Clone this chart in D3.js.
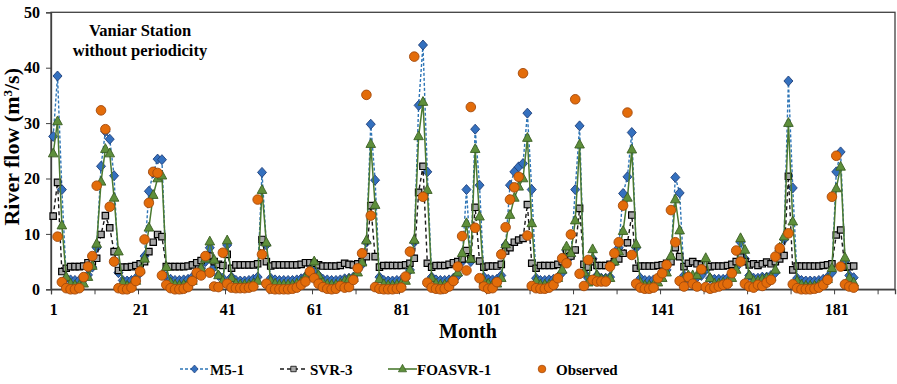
<!DOCTYPE html>
<html><head><meta charset="utf-8">
<script src="https://cdn.jsdelivr.net/npm/d3@7"></script>
<style>
html,body{margin:0;padding:0;background:#fff;}
svg{display:block;}
text{font-family:"Liberation Serif","DejaVu Serif",serif;font-weight:bold;fill:#000;}
</style></head><body>
<svg id="chart" width="897" height="384"></svg>
<script>
const months = d3.range(1, 186);
const m5 = [
27.6,38.5,18.0,2.0,1.7,1.6,1.6,1.8,2.6,4.0,
7.5,22.2,28.5,27.1,20.5,3.0,1.6,1.5,1.6,2.0,
3.0,6.0,17.7,21.0,23.5,23.4,2.2,1.8,1.6,1.6,
1.7,1.8,2.2,2.8,3.8,5.0,7.5,4.0,2.5,2.0,
8.0,2.2,1.6,1.5,1.5,1.6,1.8,2.2,21.1,8.0,
2.0,1.7,1.6,1.6,1.6,1.6,1.7,1.9,2.3,3.0,
3.6,2.5,1.8,1.7,1.6,1.6,1.7,1.9,2.0,2.2,
3.5,4.5,8.5,29.8,19.7,2.2,1.6,1.5,1.5,1.6,
1.7,2.0,3.5,8.5,33.2,44.1,21.2,2.2,1.7,1.6,
1.6,1.7,2.0,2.5,5.0,18.0,5.0,28.9,18.8,2.2,
1.8,1.7,1.8,2.5,8.0,18.8,21.2,22.1,22.7,31.8,
18.0,2.0,1.6,1.6,1.7,1.8,2.2,3.0,7.0,6.0,
18.0,29.5,3.0,2.0,5.5,2.5,2.0,2.0,2.2,5.0,
7.5,17.3,20.3,28.3,7.5,2.0,1.6,1.6,1.7,2.0,
2.8,3.5,5.5,20.2,17.4,2.5,2.0,2.0,2.2,2.5,
3.5,2.0,1.8,1.8,1.8,2.0,2.8,4.0,8.5,5.5,
2.5,2.0,2.0,2.2,2.2,2.5,3.0,7.0,9.0,37.6,
18.3,2.0,1.6,1.5,1.5,1.5,1.6,1.8,2.2,3.0,
21.2,24.8,5.0,2.5,2.1];
const svr = [
13.2,19.3,3.2,3.8,4.1,4.1,4.1,4.2,4.8,5.0,
5.6,9.9,13.3,11.1,6.8,3.4,4.0,4.0,4.1,4.3,
4.6,5.0,6.8,8.5,9.9,9.5,4.1,4.1,4.1,4.1,
4.1,4.2,4.4,4.8,5.2,5.6,6.0,5.0,4.5,4.3,
6.3,3.8,4.4,4.4,4.4,4.4,4.4,4.6,9.0,5.0,
4.2,4.4,4.4,4.4,4.4,4.4,4.4,4.5,4.8,4.8,
4.7,4.4,4.2,4.2,4.2,4.2,4.3,4.7,4.5,4.4,
4.6,5.0,5.9,15.1,5.9,4.0,4.3,4.3,4.3,4.3,
4.3,4.4,4.7,5.6,17.5,22.2,4.7,4.0,4.3,4.3,
4.3,4.5,4.8,5.0,5.5,7.0,5.5,14.8,5.1,4.0,
4.2,4.2,4.2,4.5,6.9,7.5,8.5,8.9,9.2,15.3,
4.7,3.8,4.3,4.3,4.3,4.3,4.5,5.0,7.0,6.0,
7.1,14.6,4.5,4.0,5.0,4.3,4.3,4.3,4.5,5.0,
5.5,6.5,8.4,13.4,3.8,4.2,4.2,4.2,4.2,4.3,
4.4,4.7,5.0,7.5,5.9,4.1,4.7,5.0,4.6,4.4,
4.6,4.1,4.2,4.2,4.2,4.3,4.5,5.0,5.8,5.0,
4.4,4.6,4.3,4.6,4.9,4.6,5.0,5.5,6.1,20.4,
3.5,4.2,4.2,4.2,4.2,4.2,4.2,4.3,4.4,4.6,
9.8,10.7,4.0,4.1,4.2];
const foa = [
24.5,30.3,11.5,2.2,1.0,0.7,0.7,1.0,2.2,4.2,
8.2,19.4,25.3,24.5,16.5,6.8,1.2,0.6,0.7,1.5,
3.5,5.5,11.1,17.0,20.0,20.5,4.0,1.2,0.8,0.7,
0.8,1.0,1.5,2.6,3.8,5.5,8.6,5.3,2.5,1.5,
8.8,2.0,1.0,0.8,0.8,0.8,1.0,1.5,17.9,8.4,
1.5,1.0,0.8,0.8,0.8,0.8,1.0,1.3,2.2,3.2,
5.0,2.5,1.2,0.9,0.8,0.8,1.0,1.5,1.8,2.0,
3.0,4.8,8.8,26.2,15.2,1.8,0.9,0.7,0.7,0.8,
1.0,1.5,3.5,8.9,27.6,33.8,17.9,2.0,1.0,0.8,
0.8,1.0,1.8,3.0,6.5,11.9,5.5,25.3,13.1,1.5,
1.0,0.8,1.0,2.0,8.1,13.4,16.5,18.5,20.0,27.3,
11.9,1.5,0.8,0.8,0.8,1.2,2.0,3.5,7.7,6.5,
12.4,26.1,3.0,1.2,7.2,2.5,1.8,1.8,2.0,5.0,
6.8,10.5,16.5,25.2,8.1,1.2,0.7,0.7,0.8,1.2,
2.0,3.0,6.0,16.2,10.6,2.0,2.5,2.5,2.5,3.5,
5.6,2.0,1.0,1.0,1.2,1.3,2.0,3.5,9.2,7.1,
2.5,1.5,1.5,1.8,2.0,2.2,3.5,7.5,9.5,30.0,
12.2,1.5,0.8,0.6,0.6,0.6,0.8,1.0,1.8,3.8,
18.2,22.1,5.7,2.0,1.2];
const observed = [
null,9.5,1.3,0.2,0.0,0.0,0.2,2.2,4.1,6.0,
18.7,32.3,28.9,14.9,5.0,0.2,0.0,0.0,0.3,1.5,
3.2,9.0,15.6,21.2,21.0,2.5,0.8,0.2,0.0,0.0,
0.1,0.4,1.5,3.0,2.5,6.0,3.0,0.5,0.4,6.6,
1.0,0.3,0.2,0.2,0.2,0.3,0.5,16.2,6.3,1.0,
0.1,0.0,0.0,0.0,0.0,0.1,0.3,0.8,1.4,3.2,
2.0,1.0,0.4,0.1,0.0,0.1,0.6,0.3,0.4,1.7,
3.8,6.5,35.1,13.3,0.4,0.1,0.0,0.0,0.0,0.1,
0.3,2.3,6.8,42.0,null,16.7,1.2,0.3,0.1,0.0,
0.1,0.5,1.5,4.1,9.6,3.4,32.9,11.1,2.0,0.5,
0.1,0.2,1.3,6.3,11.2,16.2,18.4,20.3,39.0,9.7,
0.6,0.2,0.1,0.1,0.3,0.8,2.0,5.6,4.7,9.9,
34.3,2.8,0.6,5.3,1.7,1.4,1.4,1.4,4.1,6.5,
8.5,15.1,31.9,6.2,1.0,0.3,0.1,0.1,0.3,2.0,
2.9,4.4,14.3,8.5,1.5,0.5,2.2,1.0,0.5,3.6,
0.4,0.1,0.3,0.5,0.8,1.0,2.9,7.0,5.0,1.0,
0.5,0.3,0.8,0.6,1.2,1.7,5.9,7.4,null,10.1,
0.9,0.2,0.0,0.0,0.0,0.1,0.3,0.8,1.7,16.7,
24.1,4.1,0.9,0.5,0.3];
const yTicks = [0, 10, 20, 30, 40, 50];
const xTickLabels = [1, 21, 41, 61, 81, 101, 121, 141, 161, 181];
const xTickMarks = d3.range(0.5, 191, 10);
const seriesNames = ["M5-1", "SVR-3", "FOASVR-1", "Observed"];
const titleLines = ["Vaniar Station", "without periodicity"];

const FONT = '"Liberation Serif","DejaVu Serif",serif';
const svg = d3.select("#chart");
const L = 51, R = 895, T = 12.3, B = 289.3;
const x = d3.scaleLinear().domain([0.5, 194.5]).range([L, R]);
const y = d3.scaleLinear().domain([0, 50]).range([B, T]);

// frame
svg.append("rect").attr("x", L).attr("y", T).attr("width", R - L).attr("height", B - T)
  .attr("fill", "none").attr("stroke", "#404040").attr("stroke-width", 1.3);

// y axis
const yAxis = d3.axisLeft(y).tickValues(yTicks).tickSize(5).tickPadding(6).tickFormat(d3.format("d"));
const gy = svg.append("g").attr("transform", `translate(${L},0)`).call(yAxis);
gy.attr("font-family", FONT);
gy.select(".domain").attr("stroke", "#404040").attr("stroke-width", 1.3);
gy.selectAll(".tick line").attr("stroke", "#404040");
gy.selectAll(".tick text").style("font-size", "16px").style("font-family", FONT).style("font-weight", "bold").attr("fill", "#000");

// x axis ticks (between categories)
const xAxisT = d3.axisBottom(x).tickValues(xTickMarks).tickSize(5).tickFormat("");
const gx = svg.append("g").attr("transform", `translate(0,${B})`).call(xAxisT);
gx.select(".domain").attr("stroke", "#404040").attr("stroke-width", 1.3);
gx.selectAll(".tick line").attr("stroke", "#404040");
// x labels at category centres
const xAxisL = d3.axisBottom(x).tickValues(xTickLabels).tickSize(0).tickPadding(14);
const gxl = svg.append("g").attr("transform", `translate(0,${B})`).call(xAxisL);
gxl.attr("font-family", FONT);
gxl.select(".domain").remove();
gxl.selectAll(".tick text").style("font-size", "16px").style("font-family", FONT).style("font-weight", "bold").attr("fill", "#000");

// axis titles
svg.append("text").attr("x", 468).attr("y", 338).attr("text-anchor", "middle")
  .style("font-size", "20px").text("Month");
const yt = svg.append("text").attr("transform", `translate(19,${(T + B) / 2 - 4}) rotate(-90)`)
  .attr("text-anchor", "middle").style("font-size", "22px");
yt.append("tspan").text("River flow (m");
yt.append("tspan").attr("dy", -7).style("font-size", "13px").text("3");
yt.append("tspan").attr("dy", 7).text("/s)");

// chart title
svg.selectAll("text.title").data(titleLines).enter().append("text").attr("class", "title")
  .attr("x", 140).attr("y", (d, i) => 36 + i * 19.5).attr("text-anchor", "middle")
  .style("font-size", "16.5px").text(d => d);

// shapes
const diamond = "M0,-5L4.5,0L0,5L-4.5,0Z";
const square = "M-3.2,-3.2H3.2V3.2H-3.2Z";
const triangle = "M0,-5.5L4.8,3.3L-4.8,3.3Z";

const styles = [
  {data: m5, line: "#2E75B6", dash: "3,2", lw: 1.4, shape: diamond, fill: "#3470BE", stroke: "#1F3F7A"},
  {data: svr, line: "#1a1a1a", dash: "4,3", lw: 1.4, shape: square, fill: "#A6A6A6", stroke: "#000", sw: 1.2},
  {data: foa, line: "#4B7A30", dash: null, lw: 1.5, shape: triangle, fill: "#5E8F3B", stroke: "#3A5E22"}
];

const plot = svg.append("g");
styles.forEach(s => {
  const pts = months.map((m, i) => [m, s.data[i]]);
  const line = d3.line().x(d => x(d[0])).y(d => y(d[1]));
  plot.append("path").attr("d", line(pts)).attr("fill", "none")
    .attr("stroke", s.line).attr("stroke-width", s.lw)
    .attr("stroke-dasharray", s.dash);
  plot.append("g").selectAll("path").data(pts).enter().append("path")
    .attr("d", s.shape).attr("transform", d => `translate(${x(d[0])},${y(d[1])})`)
    .attr("fill", s.fill).attr("stroke", s.stroke).attr("stroke-width", s.sw || 0.9);
});
const obsPts = months.map((m, i) => [m, observed[i]]).filter(d => d[1] !== null);
plot.append("g").selectAll("circle").data(obsPts).enter().append("circle")
  .attr("cx", d => x(d[0])).attr("cy", d => y(d[1])).attr("r", 4.8)
  .attr("fill", "#E36C0A").attr("stroke", "#A34A0C").attr("stroke-width", 0.9);

// legend
const ly = 369;
const lg = svg.append("g");
const legendItems = [
  {x0: 180, x1: 209, tx: 210, st: styles[0], scale: 0.8},
  {x0: 280, x1: 307, tx: 310, st: styles[1], scale: 0.85},
  {x0: 388, x1: 417, tx: 417, st: styles[2], scale: 0.85}
];
legendItems.forEach((it, i) => {
  lg.append("line").attr("x1", it.x0).attr("x2", it.x1).attr("y1", ly).attr("y2", ly)
    .attr("stroke", it.st.line).attr("stroke-width", 1.6).attr("stroke-dasharray", it.st.dash);
  lg.append("path").attr("d", it.st.shape)
    .attr("transform", `translate(${(it.x0 + it.x1) / 2},${ly}) scale(${it.scale})`)
    .attr("fill", it.st.fill).attr("stroke", it.st.stroke).attr("stroke-width", 0.9);
  lg.append("text").attr("x", it.tx).attr("y", ly + 6).style("font-size", "15px").text(seriesNames[i]);
});
lg.append("circle").attr("cx", 542).attr("cy", ly).attr("r", 3.8)
  .attr("fill", "#E36C0A").attr("stroke", "#A34A0C").attr("stroke-width", 0.8);
lg.append("text").attr("x", 556).attr("y", ly + 6).style("font-size", "15px").text(seriesNames[3]);
</script>
</body></html>
